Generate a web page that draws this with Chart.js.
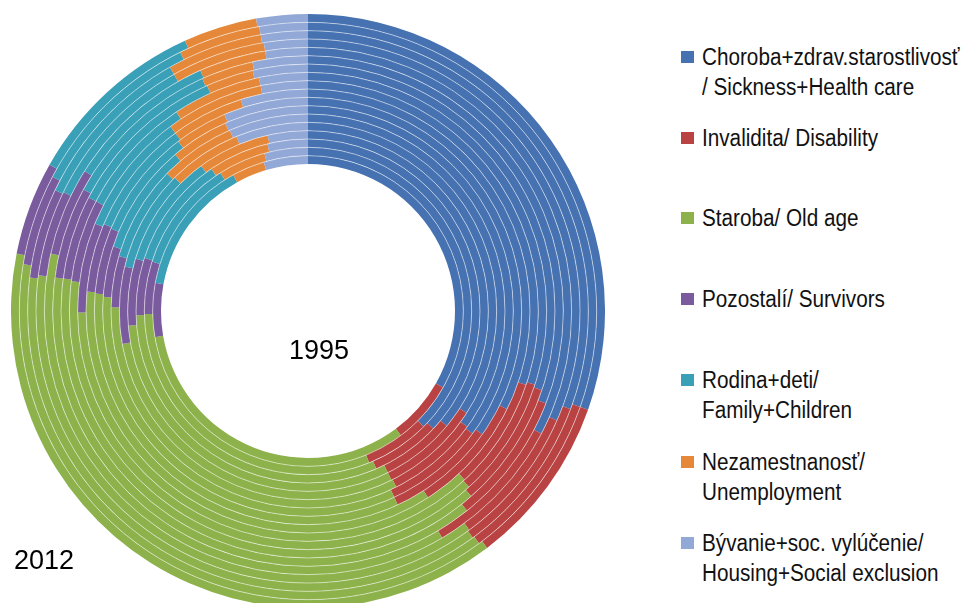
<!DOCTYPE html>
<html>
<head>
<meta charset="utf-8">
<script src="https://cdn.jsdelivr.net/npm/chart.js@4.4.1/dist/chart.umd.min.js"></script>
<style>
  html, body { margin: 0; padding: 0; background: #fff; overflow: hidden; }
  body { width: 965px; height: 603px; position: relative; font-family: 'Liberation Sans', Arial, sans-serif; }
  #wrap { position: absolute; left: 11px; top: 14px; width: 594px; height: 594px; }
  .yr { position: absolute; font-size: 27px; color: #000; transform: translate(-50%, -50%); }
  #legend { position: absolute; left: 681px; top: 0; margin: 0; padding: 0; list-style: none; }
  #legend li { position: absolute; left: 0; white-space: nowrap; font-size: 23px; line-height: 30px; color: #111; padding-left: 21px; }
  #legend li span.sw { position: absolute; left: 0; top: 9px; width: 13px; height: 12px; }
  #legend li span.tx { display: inline-block; transform: scaleX(0.9); transform-origin: 0 50%; }
</style>
</head>
<body>
<div id="wrap"><canvas id="socChart"></canvas></div>
<div class="yr" style="left:319px; top:350px;">1995</div>
<div class="yr" style="left:44px; top:560px;">2012</div>
<ul id="legend"></ul>

<script>
// Roky: vnutorny kruh = 1995, vonkajsi = 2012
const years = ['1995', '1996', '1997', '1998', '1999', '2000', '2001', '2002', '2003',
               '2004', '2005', '2006', '2007', '2008', '2009', '2010', '2011', '2012'];

const labels = [
    ['Choroba+zdrav.starostlivosť', '/ Sickness+Health care'],
    ['Invalidita/ Disability'],
    ['Staroba/ Old age'],
    ['Pozostalí/ Survivors'],
    ['Rodina+deti/', 'Family+Children'],
    ['Nezamestnanosť/', 'Unemployment'],
    ['Bývanie+soc. vylúčenie/', 'Housing+Social exclusion']
];

// podiely v % podla rokov (1995 .. 2012)
const sickness     = [33.2, 37.5, 37.0, 36.0, 34.1, 35.0, 35.2, 34.8, 32.3, 30.2, 30.0, 30.2, 30.9, 32.7, 31.6, 30.7, 30.4, 30.4];
const disability   = [ 6.6,  6.4,  6.5,  6.7,  8.6,  7.6,  7.9,  8.3,  8.6,  7.9,  8.2,  8.3,  8.4,  8.8,  8.3,  9.3,  9.5,  9.3];
const oldAge       = [32.5, 30.8, 31.1, 31.0, 29.5, 32.7, 33.0, 33.2, 35.5, 36.8, 38.8, 38.6, 37.8, 37.0, 37.2, 36.9, 37.7, 38.4];
const survivors    = [ 5.6,  5.2,  5.4,  6.0,  6.6,  4.2,  4.0,  5.0,  5.0,  6.3,  5.6,  5.5,  5.8,  5.4,  5.1,  5.2,  5.1,  5.1];
const family       = [14.1, 11.1, 10.5, 10.2,  8.7,  7.8,  8.7,  8.3,  8.4,  8.6,  8.1, 10.7, 10.3,  9.4,  9.6,  9.7, 10.0, 10.0];
const unemployment = [ 3.4,  4.7,  5.7,  6.5,  6.3,  6.2,  4.6,  4.0,  5.3,  6.9,  6.0,  3.1,  3.3,  4.1,  5.6,  5.5,  4.6,  4.0];
const housing      = [ 4.6,  4.3,  3.8,  3.6,  6.2,  6.5,  6.6,  6.4,  4.9,  3.3,  3.3,  3.6,  3.5,  2.6,  2.6,  2.7,  2.7,  2.8];

const colors = ['#4672b1', '#b94343', '#8db24b', '#7a5c9e', '#3aa0b8', '#e5883a', '#92a8d6'];

const series = [sickness, disability, oldAge, survivors, family, unemployment, housing];

// Chart.js kresli prvy dataset ako vonkajsi kruh -> 2012 ide prvy
const datasets = years.map(function(y, i) {
    return {
        label: y,
        data: series.map(function(s) { return s[i]; }),
        backgroundColor: colors,
        borderWidth: 0
    };
}).reverse();

// tenke biele ciary medzi kruhmi
const ringLines = {
    id: 'ringLines',
    afterDatasetsDraw: function(chart) {
        const ctx = chart.ctx;
        ctx.save();
        ctx.strokeStyle = 'rgba(255, 255, 255, 0.5)';
        ctx.lineWidth = 1;
        for (let i = 1; i < chart.data.datasets.length; i++) {
            const arc = chart.getDatasetMeta(i).data[0];
            ctx.beginPath();
            ctx.arc(arc.x, arc.y, arc.outerRadius, 0, Math.PI * 2);
            ctx.stroke();
        }
        ctx.restore();
    }
};

new Chart(document.getElementById('socChart'), {
    type: 'doughnut',
    data: {
        labels: labels.map(function(l) { return l.join(' '); }),
        datasets: datasets
    },
    options: {
        responsive: true,
        maintainAspectRatio: false,
        animation: false,
        cutout: '49.5%',
        layout: { padding: 0 },
        plugins: {
            legend: { display: false },
            tooltip: { enabled: false }
        }
    },
    plugins: [ringLines]
});

// legenda vpravo
const legendY = [57, 138, 218, 299, 380, 462, 543];
const ul = document.getElementById('legend');
labels.forEach(function(l, i) {
    const li = document.createElement('li');
    li.style.top = (legendY[i] - 15) + 'px';
    const sw = document.createElement('span');
    sw.className = 'sw';
    sw.style.background = colors[i];
    li.appendChild(sw);
    const tx = document.createElement('span');
    tx.className = 'tx';
    tx.appendChild(document.createTextNode(l[0]));
    if (l[1]) {
        tx.appendChild(document.createElement('br'));
        tx.appendChild(document.createTextNode(l[1]));
    }
    li.appendChild(tx);
    ul.appendChild(li);
});
</script>
</body>
</html>
